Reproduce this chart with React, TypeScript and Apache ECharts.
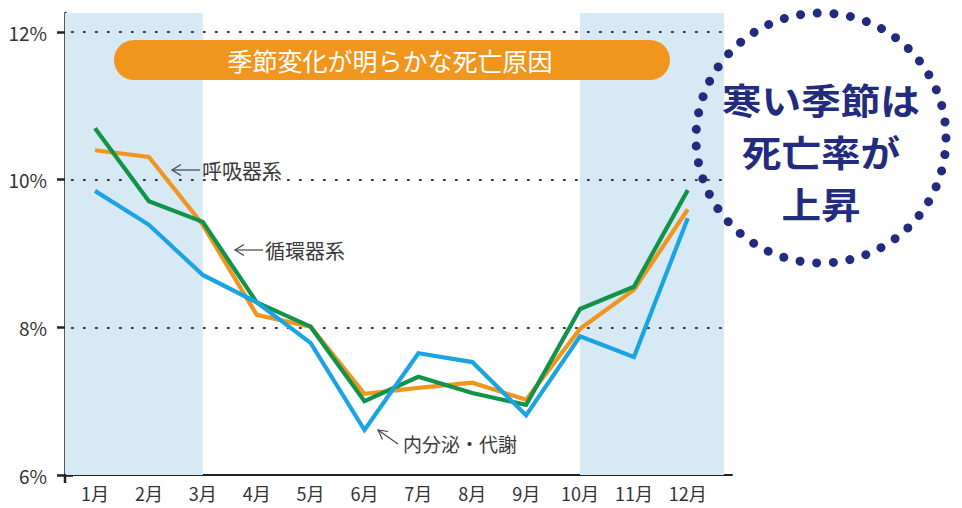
import React, { useEffect, useRef } from "react";
import * as echarts from "echarts";

// ---- data ----
const months = ["1月", "2月", "3月", "4月", "5月", "6月", "7月", "8月", "9月", "10月", "11月", "12月"];
const respiratory = [10.4, 10.31, 9.39, 8.17, 8.01, 7.1, 7.18, 7.25, 7.02, 7.98, 8.51, 9.6];
const circulatory = [10.7, 9.71, 9.43, 8.34, 8.01, 7.0, 7.33, 7.11, 6.95, 8.25, 8.55, 9.86];
const endocrine = [9.85, 9.39, 8.71, 8.34, 7.79, 6.61, 7.65, 7.53, 6.81, 7.88, 7.6, 9.48];
const yTickValues = [6, 8, 10, 12];
const gridLineValues = [8, 10, 12];
const seriesNames = ["呼吸器系", "循環器系", "内分泌・代謝"];
const titleText = "季節変化が明らかな死亡原因";
const calloutLines = ["寒い季節は", "死亡率が", "上昇"];

// ---- layout constants ----
const X_MIN = 0.443;
const X_MAX = 12.82;
const SHADE_END = 12.67;
const Y_MIN = 6;
const Y_MAX = 12.26;
const coldRanges: [number, number][] = [
  [X_MIN, 3],
  [10, SHADE_END],
];

const FONT = "'Noto Sans CJK JP', 'Noto Sans', sans-serif";
const ORANGE = "#F0961E";
const GREEN = "#12934A";
const BLUE = "#1BA4E1";
const NAVY = "#232B7E";
const TEXT = "#3a3a3a";

function txt(
  text: string,
  x: number,
  y: number,
  size: number,
  fill: string,
  align = "left",
  weight: any = "normal",
  scaleX = 1
) {
  return {
    type: "text",
    z: 100,
    x,
    y,
    scaleX,
    style: {
      text,
      x: 0,
      y: 0,
      fill,
      fontSize: size,
      lineHeight: size,
      fontFamily: FONT,
      fontWeight: weight,
      align,
      verticalAlign: "middle",
      textAlign: align,
      textVerticalAlign: "middle",
    },
  };
}

function arrow(tip: [number, number], tail: [number, number], h1: [number, number], h2: [number, number]) {
  return [
    { type: "line", z: 100, shape: { x1: tip[0], y1: tip[1], x2: tail[0], y2: tail[1] }, style: { stroke: "#444", lineWidth: 1.2 } },
    { type: "polyline", z: 100, shape: { points: [h1, tip, h2] }, style: { stroke: "#444", lineWidth: 1.2, fill: "none" } },
  ];
}

export default function App() {
  const ref = useRef<HTMLDivElement>(null);
  useEffect(() => {
    if (!ref.current) return;
    const chart = echarts.init(ref.current, undefined, { renderer: "svg" });
    const toPts = (arr: number[]) => arr.map((v, i) => [i + 1, v]);
    const lineSeries = (name: string, data: number[], color: string) => ({
      name,
      type: "line",
      xAxisIndex: 0,
      yAxisIndex: 0,
      data: toPts(data),
      symbol: "none",
      z: 5,
      lineStyle: { color, width: 4.2, join: "miter" },
      silent: true,
    });
    const option: any = {
      animation: false,
      backgroundColor: "#ffffff",
      grid: [
        { left: 65, top: 13, width: 667, height: 462 },
        { left: 65, top: 32, width: 667, height: 443 },
      ],
      xAxis: [
        {
          type: "value",
          gridIndex: 0,
          min: X_MIN,
          max: X_MAX,
          minInterval: 1,
          maxInterval: 1,
          splitNumber: 12,
          axisLine: { show: true, lineStyle: { color: "#222", width: 2 } },
          axisTick: { show: false },
          splitLine: { show: false },
          axisLabel: {
            fontSize: 18,
            color: "#333",
            fontFamily: FONT,
            margin: 9,
            formatter: (v: number) => {
              const r = Math.round(v);
              return Math.abs(v - r) < 1e-6 && r >= 1 && r <= 12 ? months[r - 1] : "";
            },
          },
        },
        { type: "value", gridIndex: 1, min: 0, max: 1, show: false },
      ],
      yAxis: [
        {
          type: "value",
          gridIndex: 0,
          min: Y_MIN,
          max: Y_MAX,
          axisLine: { show: true, lineStyle: { color: "#222", width: 2.5 } },
          axisTick: { show: false },
          axisLabel: { show: false },
          splitLine: { show: false },
        },
        {
          type: "value",
          gridIndex: 1,
          min: yTickValues[0],
          max: yTickValues[yTickValues.length - 1],
          interval: 2,
          position: "left",
          offset: -8,
          axisLine: { show: false },
          axisTick: { show: true, length: 16, lineStyle: { color: "#222", width: 2.5 } },
          splitLine: { show: false },
          axisLabel: {
            margin: 26,
            fontSize: 19,
            color: "#333",
            fontFamily: FONT,
            formatter: "{value}%",
          },
        },
      ],
      series: [
        {
          type: "line",
          xAxisIndex: 0,
          yAxisIndex: 0,
          data: [],
          z: 1,
          silent: true,
          markArea: {
            silent: true,
            itemStyle: { color: "#D6E9F4" },
            data: coldRanges.map(([a, b]) => [{ xAxis: a }, { xAxis: b }]),
          },
        },
        {
          type: "line",
          xAxisIndex: 0,
          yAxisIndex: 0,
          data: [],
          z: 2,
          silent: true,
          markLine: {
            silent: true,
            symbol: ["none", "none"],
            label: { show: false },
            lineStyle: { color: "#333", width: 2.2, type: [1, 11], cap: "round" },
            data: gridLineValues.map((v) => [{ coord: [0.57, v] }, { coord: [SHADE_END - 0.04, v] }]),
          },
        },
        { type: "line", xAxisIndex: 1, yAxisIndex: 1, data: [], silent: true },
        lineSeries(seriesNames[0], respiratory, ORANGE),
        lineSeries(seriesNames[1], circulatory, GREEN),
        lineSeries(seriesNames[2], endocrine, BLUE),
      ],
      graphic: [
        { type: "line", z: 100, shape: { x1: 65, y1: 474, x2: 65, y2: 483 }, style: { stroke: "#222", lineWidth: 2.5 } },
        { type: "rect", z: 90, shape: { x: 114, y: 40, width: 556, height: 40, r: 20 }, style: { fill: ORANGE } },
        txt(titleText, 390, 60, 25, "#ffffff", "center"),
        ...arrow([172, 170], [200, 170], [181, 164.5], [181, 175.5]),
        txt(seriesNames[0], 202, 170, 20, TEXT),
        ...arrow([235, 250], [263, 250], [244, 244.5], [244, 255.5]),
        txt(seriesNames[1], 265, 250, 20, TEXT),
        ...arrow([378, 430], [398, 444], [388, 431.5], [382.5, 439.5]),
        txt(seriesNames[2], 403, 443, 19, TEXT),
        {
          type: "circle",
          z: 100,
          shape: { cx: 821, cy: 138, r: 125 },
          style: { fill: "none", stroke: NAVY, lineWidth: 9, lineDash: [0.01, 16.7], lineCap: "round" },
        },
        txt(calloutLines[0], 821, 99, 36, NAVY, "center", "bold", 1.1),
        txt(calloutLines[1], 821, 151, 36, NAVY, "center", "bold", 1.1),
        txt(calloutLines[2], 821, 203, 36, NAVY, "center", "bold", 1.1),
      ],
    };
    chart.setOption(option);
    return () => chart.dispose();
  }, []);
  return (
    <div
      ref={ref}
      style={{ position: "absolute", left: 0, top: 0, width: 962, height: 508, background: "#fff" }}
    />
  );
}
